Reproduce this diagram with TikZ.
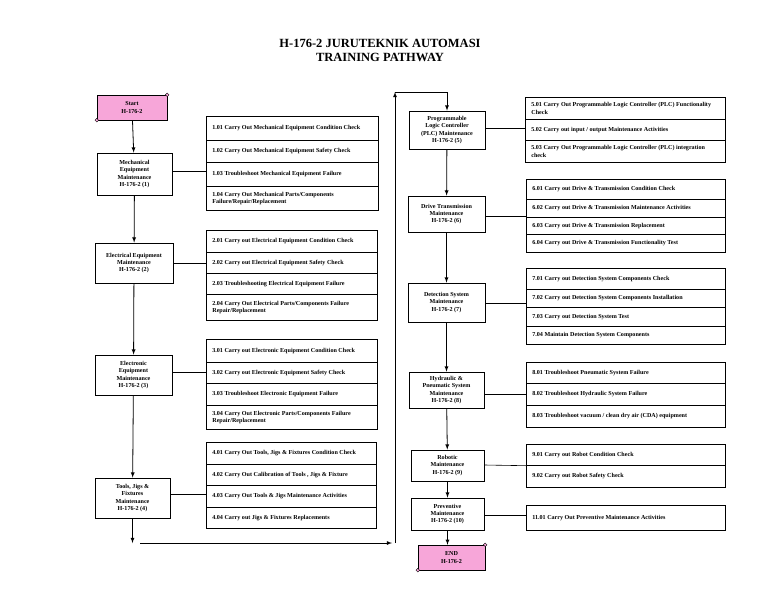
\documentclass[tikz,border=0pt]{standalone}
\usepackage{fontspec}
\setmainfont{Liberation Serif}
\definecolor{scr}{HTML}{F7A6D9}
\begin{document}
\begin{tikzpicture}[x=1pt,y=-1pt,
  every node/.style={font=\fontsize{6.1}{7.4}\selectfont\bfseries},
  mbox/.style={draw,line width=0.8pt,align=center,inner sep=1pt},
  scroll/.style={draw,fill=scr,align=center,inner sep=0pt},
  row/.style={draw,line width=0.7pt,anchor=north west,align=flush left,inner xsep=6pt,inner ysep=1pt},
  arr/.style={-latex,line width=0.8pt},
  ln/.style={line width=0.6pt}]
\useasboundingbox (0,0) rectangle (768,594);
\node[font=\fontsize{12.5}{14}\selectfont\bfseries,align=center] (title) at (380,50) {H-176-2 JURUTEKNIK AUTOMASI\\TRAINING PATHWAY};
\newcommand\mk[6]{\node[mbox,minimum width=#4,minimum height=#5] (#1) at (#2,#3) {#6};}
\newcommand\rw[6]{\pgfmathsetmacro\tw{#4-12}\node[row,text width=\tw,minimum width=#4,minimum height=#5] (#1) at (#2,#3) {#6};}
% start
\node[scroll,minimum width=70,minimum height=25] (start) at (132,107.5) {Start\\H-176-2};
\draw[fill=scr] (start.north east) circle (1.8);
\draw[fill=scr] (start.south west) circle (1.8);
\mk{m1}{134.5}{174}{75}{42}{Mechanical\\Equipment\\Maintenance\\H-176-2 (1)}
\mk{m2}{134}{263}{78}{40}{Electrical Equipment\\Maintenance\\H-176-2 (2)}
\mk{m3}{133.5}{375}{77}{40}{Electronic\\Equipment\\Maintenance\\H-176-2 (3)}
\mk{m4}{132.5}{498}{75}{40}{Tools, Jigs \&\\Fixtures\\Maintenance\\H-176-2 (4)}
\mk{m5}{447}{130}{76}{38}{Programmable\\Logic Controller\\(PLC) Maintenance\\H-176-2 (5)}
\mk{m6}{446.5}{214}{77}{36}{Drive Transmission\\Maintenance\\H-176-2 (6)}
\mk{m7}{446.5}{302.5}{77}{39}{Detection System\\Maintenance\\H-176-2 (7)}
\mk{m8}{446.5}{390}{75}{36}{Hydraulic \&\\Pneumatic System\\Maintenance\\H-176-2 (8)}
\mk{m9}{447.5}{465.5}{73}{31}{Robotic\\Maintenance\\H-176-2 (9)}
\mk{m10}{447.5}{514}{73}{32}{Preventive\\Maintenance\\H-176-2 (10)}
\node[scroll,minimum width=67,minimum height=25] (end) at (451.5,557.5) {END\\H-176-2};
\draw[fill=scr] (end.north east) circle (1.8);
\draw[fill=scr] (end.south west) circle (1.8);
% groups
\rw{a1}{206}{116}{172}{24}{1.01 Carry Out Mechanical Equipment Condition Check}
\rw{a2}{206}{140}{172}{22}{1.02 Carry Out Mechanical Equipment Safety Check}
\rw{a3}{206}{162}{172}{24}{1.03 Troubleshoot Mechanical Equipment Failure}
\rw{a4}{206}{186}{172}{24}{1.04 Carry Out Mechanical Parts/Components Failure/Repair/Replacement}
\rw{b1}{206}{230}{171}{22}{2.01 Carry out Electrical Equipment Condition Check}
\rw{b2}{206}{252}{171}{21}{2.02 Carry out Electrical Equipment Safety Check}
\rw{b3}{206}{273}{171}{21}{2.03 Troubleshooting Electrical Equipment Failure}
\rw{b4}{206}{294}{171}{26}{2.04 Carry Out Electrical Parts/Components Failure Repair/Replacement}
\rw{c1}{206}{339}{171}{23}{3.01 Carry out Electronic Equipment Condition Check}
\rw{c2}{206}{362}{171}{21}{3.02 Carry out Electronic Equipment Safety Check}
\rw{c3}{206}{383}{171}{22}{3.03 Troubleshoot Electronic Equipment Failure}
\rw{c4}{206}{405}{171}{24}{3.04 Carry Out Electronic Parts/Components Failure Repair/Replacement}
\rw{d1}{206}{442}{170}{22}{4.01 Carry Out Tools, Jigs \& Fixtures Condition Check}
\rw{d2}{206}{464}{170}{21}{4.02 Carry Out Calibration of Tools , Jigs \& Fixture}
\rw{d3}{206}{485}{170}{22}{4.03 Carry Out Tools \& Jigs Maintenance Activities}
\rw{d4}{206}{507}{170}{21}{4.04 Carry out Jigs \& Fixtures Replacements}
\rw{e1}{525}{97}{200}{22}{5.01 Carry Out Programmable Logic Controller (PLC) Functionality Check}
\rw{e2}{525}{119}{200}{21}{5.02 Carry out input / output Maintenance Activities}
\rw{e3}{525}{140}{200}{22}{5.03 Carry Out Programmable Logic Controller (PLC) integration check}
\rw{f1}{526}{179}{199}{20}{6.01 Carry out Drive \& Transmission Condition Check}
\rw{f2}{526}{199}{199}{18}{6.02 Carry out Drive \& Transmission Maintenance Activities}
\rw{f3}{526}{217}{199}{17}{6.03 Carry out Drive \& Transmission Replacement}
\rw{f4}{526}{234}{199}{18}{6.04 Carry out Drive \& Transmission Functionality Test}
\rw{g1}{526}{268}{199}{21}{7.01 Carry out Detection System Components Check}
\rw{g2}{526}{289}{199}{18}{7.02 Carry out Detection System Components Installation}
\rw{g3}{526}{307}{199}{19}{7.03 Carry out Detection System Test}
\rw{g4}{526}{326}{199}{18}{7.04 Maintain Detection System Components}
\rw{h1}{526}{362}{199}{21}{8.01 Troubleshoot Pneumatic System Failure}
\rw{h2}{526}{383}{199}{22}{8.02 Troubleshoot Hydraulic System Failure}
\rw{h3}{526}{405}{199}{22}{8.03 Troubleshoot vacuum / clean dry air (CDA) equipment}
\rw{i1}{526}{444}{199}{21}{9.01 Carry out Robot Condition Check}
\rw{i2}{526}{465}{199}{22}{9.02 Carry out Robot Safety Check}
\rw{j1}{526}{505}{199}{25}{11.01 Carry Out Preventive Maintenance Activities}
% vertical flow
\draw[arr] (start) -- (m1);
\draw[arr] (m1) -- (m2);
\draw[arr] (m2) -- (m3);
\draw[arr] (m3) -- (m4);
\coordinate (p1) at (m4.south|-0,543);
\coordinate (p2) at (140,543);
\coordinate (p3) at (392,543);
\coordinate (p4) at (395,543);
\coordinate (p5) at (395,92);
\coordinate (p6) at (m5.north|-0,92);
\draw[arr] (m4) -- (p1);
\draw[arr] (p2) -- (p3);
\draw[arr] (p4) -- (p5);
\draw[arr] (p5) -- (p6) -- (m5);
\draw[arr] (m5) -- (m6);
\draw[arr] (m6) -- (m7);
\draw[arr] (m7) -- (m8);
\draw[arr] (m8) -- (m9);
\draw[arr] (m9) -- (m10);
\draw[arr] (m10) -- (m10.south|-end.north);
% links
\draw[ln] (m1.east|-0,171) -- (a3.west|-0,171);
\draw[ln] (m2) -- (m2.east-|b2.west);
\draw[ln] (m3.east|-0,372) -- (c2.west|-0,372);
\draw[ln] (m4.east|-0,494) -- (d3.west|-0,494);
\draw[ln] (m5.east|-0,128) -- (e2.west|-0,128);
\draw[ln] (m6.east|-0,216) -- (f2.west|-0,216);
\draw[ln] (m7.east|-0,303) -- (g2.west|-0,303);
\draw[ln] (m8.east|-0,394) -- (h2.west|-0,394);
\draw[ln] (m9.east|-0,465) -- (i1.south west);
\draw[ln] (m10.east|-0,515) -- (j1.west|-0,515);
\end{tikzpicture}
\end{document}
